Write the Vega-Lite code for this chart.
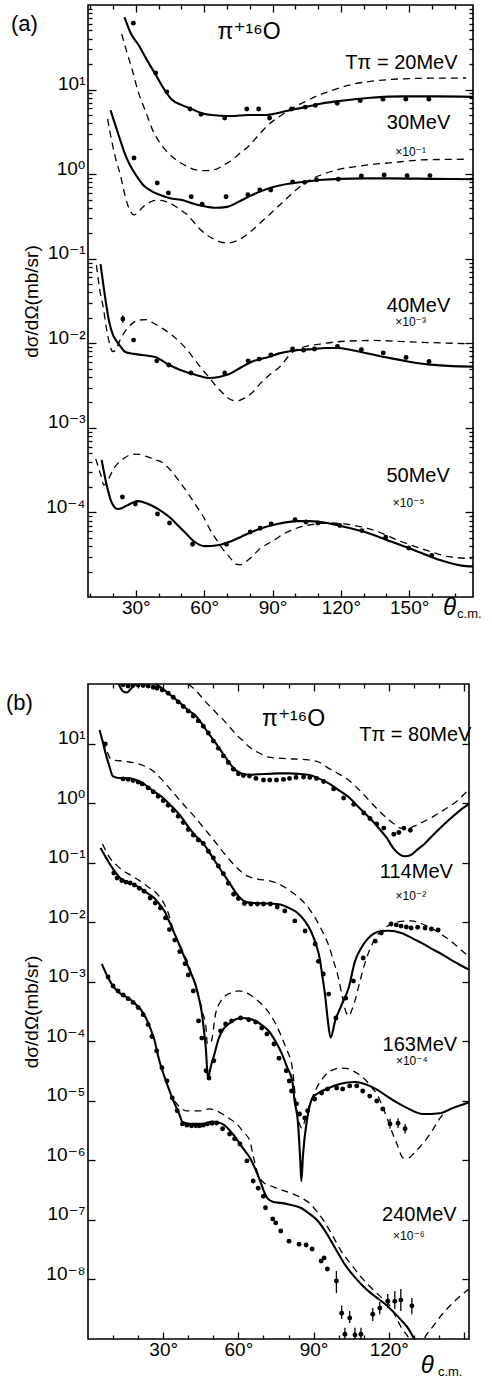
{
"$schema":"https://vega.github.io/schema/vega-lite/v6.json",
"padding":{"left":5,"top":3,"right":0,"bottom":0},
"background":"white",
"spacing":59,
"config":{"font":"Liberation Sans, DejaVu Sans","view":{"stroke":"black","strokeWidth":1.6},
 "axis":{"labelColor":"black","titleColor":"black","tickColor":"black","labelFontSize":19,"labelFont":"Liberation Sans, DejaVu Sans","titleFont":"Liberation Sans, DejaVu Sans","grid":false,"domain":false,"tickWidth":1.3,"labelOverlap":false,"labelFlush":false}},
"datasets":{
"a":[
{"curve":"20","kind":"calcA","angle":25,"value":72},{"curve":"20","kind":"calcA","angle":28,"value":45},{"curve":"20","kind":"calcA","angle":31.2,"value":33.7},{"curve":"20","kind":"calcA","angle":35,"value":22},{"curve":"20","kind":"calcA","angle":38.8,"value":14.9},{"curve":"20","kind":"calcA","angle":42,"value":10.5},{"curve":"20","kind":"calcA","angle":45.6,"value":7.7},{"curve":"20","kind":"calcA","angle":50,"value":6.6},{"curve":"20","kind":"calcA","angle":54.4,"value":5.9},{"curve":"20","kind":"calcA","angle":58.5,"value":5.3},{"curve":"20","kind":"calcA","angle":63.2,"value":5.0},{"curve":"20","kind":"calcA","angle":67.5,"value":4.9},{"curve":"20","kind":"calcA","angle":71.9,"value":4.86},{"curve":"20","kind":"calcA","angle":79.3,"value":5.0},{"curve":"20","kind":"calcA","angle":86.8,"value":5.0},{"curve":"20","kind":"calcA","angle":93.8,"value":5.4},{"curve":"20","kind":"calcA","angle":99,"value":5.8},{"curve":"20","kind":"calcA","angle":104.3,"value":6.2},{"curve":"20","kind":"calcA","angle":111,"value":6.8},{"curve":"20","kind":"calcA","angle":118.7,"value":7.3},{"curve":"20","kind":"calcA","angle":126,"value":7.7},{"curve":"20","kind":"calcA","angle":133.1,"value":8.0},{"curve":"20","kind":"calcA","angle":147.9,"value":8.3},{"curve":"20","kind":"calcA","angle":162.3,"value":8.3},{"curve":"20","kind":"calcA","angle":178,"value":8.2},
{"curve":"30","kind":"calcA","angle":18.9,"value":5.7},{"curve":"30","kind":"calcA","angle":21,"value":3.8},{"curve":"30","kind":"calcA","angle":23,"value":2.6},{"curve":"30","kind":"calcA","angle":25,"value":1.8},{"curve":"30","kind":"calcA","angle":27.4,"value":1.28},{"curve":"30","kind":"calcA","angle":30,"value":0.98},{"curve":"30","kind":"calcA","angle":33.2,"value":0.745},{"curve":"30","kind":"calcA","angle":36.5,"value":0.64},{"curve":"30","kind":"calcA","angle":40.7,"value":0.567},{"curve":"30","kind":"calcA","angle":45,"value":0.52},{"curve":"30","kind":"calcA","angle":50.8,"value":0.49},{"curve":"30","kind":"calcA","angle":55,"value":0.45},{"curve":"30","kind":"calcA","angle":59.5,"value":0.42},{"curve":"30","kind":"calcA","angle":65,"value":0.40},{"curve":"30","kind":"calcA","angle":70,"value":0.41},{"curve":"30","kind":"calcA","angle":75,"value":0.47},{"curve":"30","kind":"calcA","angle":80,"value":0.55},{"curve":"30","kind":"calcA","angle":85,"value":0.63},{"curve":"30","kind":"calcA","angle":90,"value":0.70},{"curve":"30","kind":"calcA","angle":97,"value":0.77},{"curve":"30","kind":"calcA","angle":104.9,"value":0.82},{"curve":"30","kind":"calcA","angle":112,"value":0.86},{"curve":"30","kind":"calcA","angle":119.3,"value":0.88},{"curve":"30","kind":"calcA","angle":130,"value":0.89},{"curve":"30","kind":"calcA","angle":141.2,"value":0.89},{"curve":"30","kind":"calcA","angle":160,"value":0.88},{"curve":"30","kind":"calcA","angle":178,"value":0.87},
{"curve":"40","kind":"calcA","angle":14.5,"value":0.0865},{"curve":"40","kind":"calcA","angle":16.2,"value":0.040},{"curve":"40","kind":"calcA","angle":18.3,"value":0.0179},{"curve":"40","kind":"calcA","angle":20,"value":0.0125},{"curve":"40","kind":"calcA","angle":21.8,"value":0.0104},{"curve":"40","kind":"calcA","angle":23.5,"value":0.009},{"curve":"40","kind":"calcA","angle":25.4,"value":0.0079},{"curve":"40","kind":"calcA","angle":29,"value":0.0075},{"curve":"40","kind":"calcA","angle":32.8,"value":0.00727},{"curve":"40","kind":"calcA","angle":38.5,"value":0.00688},{"curve":"40","kind":"calcA","angle":44.7,"value":0.00553},{"curve":"40","kind":"calcA","angle":49,"value":0.0049},{"curve":"40","kind":"calcA","angle":53.5,"value":0.00445},{"curve":"40","kind":"calcA","angle":58,"value":0.0041},{"curve":"40","kind":"calcA","angle":62.2,"value":0.00388},{"curve":"40","kind":"calcA","angle":66.5,"value":0.0040},{"curve":"40","kind":"calcA","angle":71,"value":0.00433},{"curve":"40","kind":"calcA","angle":76.5,"value":0.00525},{"curve":"40","kind":"calcA","angle":82,"value":0.0062},{"curve":"40","kind":"calcA","angle":88.2,"value":0.00688},{"curve":"40","kind":"calcA","angle":93,"value":0.0076},{"curve":"40","kind":"calcA","angle":98.2,"value":0.0081},{"curve":"40","kind":"calcA","angle":103,"value":0.0084},{"curve":"40","kind":"calcA","angle":108.3,"value":0.00855},{"curve":"40","kind":"calcA","angle":113,"value":0.0088},{"curve":"40","kind":"calcA","angle":118.7,"value":0.0088},{"curve":"40","kind":"calcA","angle":124,"value":0.0084},{"curve":"40","kind":"calcA","angle":128.8,"value":0.0079},{"curve":"40","kind":"calcA","angle":133.5,"value":0.0074},{"curve":"40","kind":"calcA","angle":138.9,"value":0.0069},{"curve":"40","kind":"calcA","angle":144,"value":0.0065},{"curve":"40","kind":"calcA","angle":149.4,"value":0.0061},{"curve":"40","kind":"calcA","angle":154,"value":0.0058},{"curve":"40","kind":"calcA","angle":159.4,"value":0.0056},{"curve":"40","kind":"calcA","angle":167,"value":0.0054},{"curve":"40","kind":"calcA","angle":178,"value":0.0053},
{"curve":"50","kind":"calcA","angle":15,"value":4.17e-4},{"curve":"50","kind":"calcA","angle":16.9,"value":2.29e-4},{"curve":"50","kind":"calcA","angle":19.3,"value":1.33e-4},{"curve":"50","kind":"calcA","angle":22,"value":1.10e-4},{"curve":"50","kind":"calcA","angle":24,"value":1.13e-4},{"curve":"50","kind":"calcA","angle":26.4,"value":1.22e-4},{"curve":"50","kind":"calcA","angle":28.5,"value":1.3e-4},{"curve":"50","kind":"calcA","angle":30.8,"value":1.36e-4},{"curve":"50","kind":"calcA","angle":34,"value":1.3e-4},{"curve":"50","kind":"calcA","angle":38.2,"value":1.16e-4},{"curve":"50","kind":"calcA","angle":42,"value":1.0e-4},{"curve":"50","kind":"calcA","angle":45.7,"value":8.36e-5},{"curve":"50","kind":"calcA","angle":48.5,"value":7e-5},{"curve":"50","kind":"calcA","angle":51.4,"value":5.86e-5},{"curve":"50","kind":"calcA","angle":55.9,"value":4.47e-5},{"curve":"50","kind":"calcA","angle":60.2,"value":4.0e-5},{"curve":"50","kind":"calcA","angle":65.9,"value":4.1e-5},{"curve":"50","kind":"calcA","angle":72.1,"value":4.6e-5},{"curve":"50","kind":"calcA","angle":76.5,"value":5.2e-5},{"curve":"50","kind":"calcA","angle":80.8,"value":5.86e-5},{"curve":"50","kind":"calcA","angle":85.1,"value":6.5e-5},{"curve":"50","kind":"calcA","angle":92.1,"value":7.3e-5},{"curve":"50","kind":"calcA","angle":100.8,"value":7.9e-5},{"curve":"50","kind":"calcA","angle":106,"value":7.9e-5},{"curve":"50","kind":"calcA","angle":111.3,"value":7.7e-5},{"curve":"50","kind":"calcA","angle":120,"value":6.9e-5},{"curve":"50","kind":"calcA","angle":130.2,"value":5.9e-5},{"curve":"50","kind":"calcA","angle":140.4,"value":4.7e-5},{"curve":"50","kind":"calcA","angle":150.9,"value":3.7e-5},{"curve":"50","kind":"calcA","angle":162.3,"value":2.8e-5},{"curve":"50","kind":"calcA","angle":172.9,"value":2.35e-5},{"curve":"50","kind":"calcA","angle":178,"value":2.3e-5},
{"curve":"20","kind":"calcB","angle":23.8,"value":45.4},{"curve":"20","kind":"calcB","angle":26,"value":28},{"curve":"20","kind":"calcB","angle":28.3,"value":17.5},{"curve":"20","kind":"calcB","angle":31,"value":9.5},{"curve":"20","kind":"calcB","angle":34.4,"value":5.4},{"curve":"20","kind":"calcB","angle":37,"value":3.5},{"curve":"20","kind":"calcB","angle":40.3,"value":2.4},{"curve":"20","kind":"calcB","angle":44,"value":1.8},{"curve":"20","kind":"calcB","angle":47.8,"value":1.47},{"curve":"20","kind":"calcB","angle":52,"value":1.25},{"curve":"20","kind":"calcB","angle":56.6,"value":1.12},{"curve":"20","kind":"calcB","angle":61,"value":1.1},{"curve":"20","kind":"calcB","angle":65.4,"value":1.15},{"curve":"20","kind":"calcB","angle":69,"value":1.3},{"curve":"20","kind":"calcB","angle":72.3,"value":1.47},{"curve":"20","kind":"calcB","angle":75.3,"value":1.73},{"curve":"20","kind":"calcB","angle":79.6,"value":2.15},{"curve":"20","kind":"calcB","angle":83.9,"value":2.9},{"curve":"20","kind":"calcB","angle":88,"value":3.8},{"curve":"20","kind":"calcB","angle":94,"value":5.0},{"curve":"20","kind":"calcB","angle":99,"value":6.1},{"curve":"20","kind":"calcB","angle":104.4,"value":7.2},{"curve":"20","kind":"calcB","angle":109,"value":8.3},{"curve":"20","kind":"calcB","angle":114.4,"value":9.4},{"curve":"20","kind":"calcB","angle":120,"value":10.6},{"curve":"20","kind":"calcB","angle":126.1,"value":11.7},{"curve":"20","kind":"calcB","angle":133,"value":12.5},{"curve":"20","kind":"calcB","angle":140.5,"value":13.1},{"curve":"20","kind":"calcB","angle":156.6,"value":13.6},{"curve":"20","kind":"calcB","angle":175,"value":13.7},
{"curve":"30","kind":"calcB","angle":17.6,"value":4.5},{"curve":"30","kind":"calcB","angle":19.8,"value":2.2},{"curve":"30","kind":"calcB","angle":21.5,"value":1.4},{"curve":"30","kind":"calcB","angle":23.2,"value":0.98},{"curve":"30","kind":"calcB","angle":24.5,"value":0.68},{"curve":"30","kind":"calcB","angle":26,"value":0.47},{"curve":"30","kind":"calcB","angle":27.5,"value":0.37},{"curve":"30","kind":"calcB","angle":29,"value":0.33},{"curve":"30","kind":"calcB","angle":30.5,"value":0.34},{"curve":"30","kind":"calcB","angle":32,"value":0.38},{"curve":"30","kind":"calcB","angle":34,"value":0.43},{"curve":"30","kind":"calcB","angle":36.4,"value":0.47},{"curve":"30","kind":"calcB","angle":38.5,"value":0.49},{"curve":"30","kind":"calcB","angle":40.8,"value":0.49},{"curve":"30","kind":"calcB","angle":43.5,"value":0.47},{"curve":"30","kind":"calcB","angle":46.5,"value":0.43},{"curve":"30","kind":"calcB","angle":49.5,"value":0.38},{"curve":"30","kind":"calcB","angle":52.6,"value":0.33},{"curve":"30","kind":"calcB","angle":55.5,"value":0.27},{"curve":"30","kind":"calcB","angle":58.4,"value":0.22},{"curve":"30","kind":"calcB","angle":61.3,"value":0.19},{"curve":"30","kind":"calcB","angle":64.1,"value":0.171},{"curve":"30","kind":"calcB","angle":67,"value":0.158},{"curve":"30","kind":"calcB","angle":70.2,"value":0.153},{"curve":"30","kind":"calcB","angle":73,"value":0.158},{"curve":"30","kind":"calcB","angle":75.9,"value":0.171},{"curve":"30","kind":"calcB","angle":80,"value":0.205},{"curve":"30","kind":"calcB","angle":84.6,"value":0.265},{"curve":"30","kind":"calcB","angle":89.5,"value":0.35},{"curve":"30","kind":"calcB","angle":94.6,"value":0.47},{"curve":"30","kind":"calcB","angle":100,"value":0.64},{"curve":"30","kind":"calcB","angle":105,"value":0.81},{"curve":"30","kind":"calcB","angle":110,"value":0.95},{"curve":"30","kind":"calcB","angle":115,"value":1.06},{"curve":"30","kind":"calcB","angle":120.5,"value":1.16},{"curve":"30","kind":"calcB","angle":126.8,"value":1.23},{"curve":"30","kind":"calcB","angle":133.5,"value":1.3},{"curve":"30","kind":"calcB","angle":141.3,"value":1.36},{"curve":"30","kind":"calcB","angle":157.4,"value":1.48},{"curve":"30","kind":"calcB","angle":175,"value":1.5},
{"curve":"40","kind":"calcB","angle":12.7,"value":0.084},{"curve":"40","kind":"calcB","angle":14.1,"value":0.044},{"curve":"40","kind":"calcB","angle":15.8,"value":0.0255},{"curve":"40","kind":"calcB","angle":17,"value":0.0155},{"curve":"40","kind":"calcB","angle":18.5,"value":0.0098},{"curve":"40","kind":"calcB","angle":19.8,"value":0.0080},{"curve":"40","kind":"calcB","angle":21,"value":0.0082},{"curve":"40","kind":"calcB","angle":22.7,"value":0.0104},{"curve":"40","kind":"calcB","angle":24.5,"value":0.0128},{"curve":"40","kind":"calcB","angle":26.1,"value":0.0148},{"curve":"40","kind":"calcB","angle":28.5,"value":0.0172},{"curve":"40","kind":"calcB","angle":31.3,"value":0.0188},{"curve":"40","kind":"calcB","angle":34.5,"value":0.019},{"curve":"40","kind":"calcB","angle":38.4,"value":0.0169},{"curve":"40","kind":"calcB","angle":42,"value":0.0148},{"curve":"40","kind":"calcB","angle":45.8,"value":0.0125},{"curve":"40","kind":"calcB","angle":49.5,"value":0.0102},{"curve":"40","kind":"calcB","angle":53.3,"value":0.0079},{"curve":"40","kind":"calcB","angle":56,"value":0.0063},{"curve":"40","kind":"calcB","angle":59,"value":0.00497},{"curve":"40","kind":"calcB","angle":62,"value":0.004},{"curve":"40","kind":"calcB","angle":64.8,"value":0.00321},{"curve":"40","kind":"calcB","angle":68,"value":0.0026},{"curve":"40","kind":"calcB","angle":72.2,"value":0.00213},{"curve":"40","kind":"calcB","angle":75,"value":0.0021},{"curve":"40","kind":"calcB","angle":77,"value":0.0022},{"curve":"40","kind":"calcB","angle":80.9,"value":0.00258},{"curve":"40","kind":"calcB","angle":85.2,"value":0.00347},{"curve":"40","kind":"calcB","angle":89.5,"value":0.0044},{"curve":"40","kind":"calcB","angle":93.9,"value":0.0055},{"curve":"40","kind":"calcB","angle":96.5,"value":0.0068},{"curve":"40","kind":"calcB","angle":99.5,"value":0.0081},{"curve":"40","kind":"calcB","angle":104,"value":0.0091},{"curve":"40","kind":"calcB","angle":110,"value":0.0097},{"curve":"40","kind":"calcB","angle":120,"value":0.0105},{"curve":"40","kind":"calcB","angle":134.4,"value":0.0108},{"curve":"40","kind":"calcB","angle":149.3,"value":0.0104},{"curve":"40","kind":"calcB","angle":163.7,"value":0.0101},{"curve":"40","kind":"calcB","angle":175.5,"value":0.0099},
{"curve":"50","kind":"calcB","angle":12.4,"value":4.3e-4},{"curve":"50","kind":"calcB","angle":14.6,"value":2.77e-4},{"curve":"50","kind":"calcB","angle":16,"value":2.1e-4},{"curve":"50","kind":"calcB","angle":17.3,"value":2.29e-4},{"curve":"50","kind":"calcB","angle":18.8,"value":2.75e-4},{"curve":"50","kind":"calcB","angle":20.2,"value":3.26e-4},{"curve":"50","kind":"calcB","angle":22.3,"value":3.85e-4},{"curve":"50","kind":"calcB","angle":24.5,"value":4.3e-4},{"curve":"50","kind":"calcB","angle":28.8,"value":4.9e-4},{"curve":"50","kind":"calcB","angle":31.5,"value":4.85e-4},{"curve":"50","kind":"calcB","angle":34.5,"value":4.6e-4},{"curve":"50","kind":"calcB","angle":38,"value":4.25e-4},{"curve":"50","kind":"calcB","angle":41.9,"value":3.84e-4},{"curve":"50","kind":"calcB","angle":45.5,"value":3.1e-4},{"curve":"50","kind":"calcB","angle":49.3,"value":2.29e-4},{"curve":"50","kind":"calcB","angle":52.8,"value":1.7e-4},{"curve":"50","kind":"calcB","angle":56.3,"value":1.22e-4},{"curve":"50","kind":"calcB","angle":59.5,"value":9e-5},{"curve":"50","kind":"calcB","angle":62.4,"value":6.4e-5},{"curve":"50","kind":"calcB","angle":65.3,"value":4.8e-5},{"curve":"50","kind":"calcB","angle":68.1,"value":3.7e-5},{"curve":"50","kind":"calcB","angle":71,"value":3e-5},{"curve":"50","kind":"calcB","angle":73.9,"value":2.45e-5},{"curve":"50","kind":"calcB","angle":76,"value":2.4e-5},{"curve":"50","kind":"calcB","angle":78.2,"value":2.6e-5},{"curve":"50","kind":"calcB","angle":81,"value":3.0e-5},{"curve":"50","kind":"calcB","angle":84.3,"value":3.7e-5},{"curve":"50","kind":"calcB","angle":87.5,"value":4.2e-5},{"curve":"50","kind":"calcB","angle":91.2,"value":4.8e-5},{"curve":"50","kind":"calcB","angle":94.5,"value":5.5e-5},{"curve":"50","kind":"calcB","angle":98.6,"value":6.2e-5},{"curve":"50","kind":"calcB","angle":102,"value":6.7e-5},{"curve":"50","kind":"calcB","angle":106,"value":7.1e-5},{"curve":"50","kind":"calcB","angle":114.7,"value":7.5e-5},{"curve":"50","kind":"calcB","angle":123.5,"value":7.2e-5},{"curve":"50","kind":"calcB","angle":134.9,"value":6.1e-5},{"curve":"50","kind":"calcB","angle":146.7,"value":4.5e-5},{"curve":"50","kind":"calcB","angle":158.5,"value":3.5e-5},{"curve":"50","kind":"calcB","angle":167.3,"value":3.0e-5},{"curve":"50","kind":"calcB","angle":177.4,"value":2.85e-5},
{"curve":"20","kind":"data","angle":28.9,"value":61},{"curve":"20","kind":"data","angle":38.7,"value":15.7},{"curve":"20","kind":"data","angle":43.6,"value":9.4},{"curve":"20","kind":"data","angle":53.8,"value":5.9},{"curve":"20","kind":"data","angle":58.6,"value":5.1},{"curve":"20","kind":"data","angle":69,"value":4.6},{"curve":"20","kind":"data","angle":78.7,"value":5.9},{"curve":"20","kind":"data","angle":83.9,"value":5.9},{"curve":"20","kind":"data","angle":88.7,"value":4.6},{"curve":"20","kind":"data","angle":98.3,"value":5.9},{"curve":"20","kind":"data","angle":104.4,"value":6.2},{"curve":"20","kind":"data","angle":108.8,"value":6.5},{"curve":"20","kind":"data","angle":118.4,"value":6.9},{"curve":"20","kind":"data","angle":128.5,"value":7.4},{"curve":"20","kind":"data","angle":138.5,"value":7.7},{"curve":"20","kind":"data","angle":148.5,"value":7.7},{"curve":"20","kind":"data","angle":158.6,"value":7.7},
{"curve":"30","kind":"data","angle":29.2,"value":1.55},{"curve":"30","kind":"data","angle":39.4,"value":0.785},{"curve":"30","kind":"data","angle":44.3,"value":0.60},{"curve":"30","kind":"data","angle":54.3,"value":0.54},{"curve":"30","kind":"data","angle":59.1,"value":0.44},{"curve":"30","kind":"data","angle":69.6,"value":0.54},{"curve":"30","kind":"data","angle":79.2,"value":0.57},{"curve":"30","kind":"data","angle":84.4,"value":0.65},{"curve":"30","kind":"data","angle":89.2,"value":0.65},{"curve":"30","kind":"data","angle":98.8,"value":0.81},{"curve":"30","kind":"data","angle":104.1,"value":0.8},{"curve":"30","kind":"data","angle":109.3,"value":0.86},{"curve":"30","kind":"data","angle":118.9,"value":0.87},{"curve":"30","kind":"data","angle":129,"value":0.95},{"curve":"30","kind":"data","angle":139,"value":0.98},{"curve":"30","kind":"data","angle":149.1,"value":0.96},{"curve":"30","kind":"data","angle":159.1,"value":0.96},
{"curve":"40","kind":"data","angle":24.3,"value":0.0194},{"curve":"40","kind":"data","angle":29,"value":0.0109},{"curve":"40","kind":"data","angle":39.2,"value":0.0062},{"curve":"40","kind":"data","angle":44.5,"value":0.00553},{"curve":"40","kind":"data","angle":54.2,"value":0.00445},{"curve":"40","kind":"data","angle":69,"value":0.00445},{"curve":"40","kind":"data","angle":79.3,"value":0.0062},{"curve":"40","kind":"data","angle":84.1,"value":0.0065},{"curve":"40","kind":"data","angle":89.3,"value":0.00727},{"curve":"40","kind":"data","angle":98.8,"value":0.00855},{"curve":"40","kind":"data","angle":103.6,"value":0.0083},{"curve":"40","kind":"data","angle":108.4,"value":0.00855},{"curve":"40","kind":"data","angle":118.5,"value":0.0092},{"curve":"40","kind":"data","angle":129,"value":0.0084},{"curve":"40","kind":"data","angle":138.6,"value":0.0077},{"curve":"40","kind":"data","angle":148.6,"value":0.0068},{"curve":"40","kind":"data","angle":158.7,"value":0.0061},
{"curve":"50","kind":"data","angle":24.1,"value":1.52e-4},{"curve":"50","kind":"data","angle":29.8,"value":1.26e-4},{"curve":"50","kind":"data","angle":39.5,"value":9.6e-5},{"curve":"50","kind":"data","angle":44.8,"value":7.5e-5},{"curve":"50","kind":"data","angle":54.9,"value":4.2e-5},{"curve":"50","kind":"data","angle":69.8,"value":4.2e-5},{"curve":"50","kind":"data","angle":80.2,"value":5.86e-5},{"curve":"50","kind":"data","angle":84.6,"value":6.5e-5},{"curve":"50","kind":"data","angle":89.4,"value":7.3e-5},{"curve":"50","kind":"data","angle":99.9,"value":8.2e-5},{"curve":"50","kind":"data","angle":104.7,"value":7.7e-5},{"curve":"50","kind":"data","angle":109.9,"value":7.5e-5},{"curve":"50","kind":"data","angle":119.5,"value":7.0e-5},{"curve":"50","kind":"data","angle":129.2,"value":6.1e-5},{"curve":"50","kind":"data","angle":139.7,"value":5.1e-5},{"curve":"50","kind":"data","angle":149.8,"value":3.8e-5},{"curve":"50","kind":"data","angle":159.9,"value":3.1e-5}
],
"aErr":[{"curve":"40","angle":24.3,"low":0.0175,"high":0.0215}],
"aText":[
{"role":"panel","label":"(a)","angle":-24.8,"value":49.3},
{"role":"reaction","label":"π⁺¹⁶O","angle":79.7,"value":39.6},
{"role":"energy","label":"Tπ = 20MeV","angle":146.6,"value":17.5},
{"role":"energy","label":"30MeV","angle":154.1,"value":3.42},
{"role":"factor","label":"×10⁻¹","angle":150.6,"value":1.64},
{"role":"energy","label":"40MeV","angle":154.1,"value":0.0234},
{"role":"factor","label":"×10⁻³","angle":150.6,"value":0.016},
{"role":"energy","label":"50MeV","angle":153.9,"value":2.29e-4},
{"role":"factor","label":"×10⁻⁵","angle":149.7,"value":1.16e-4},
{"role":"theta","label":"θ","angle":164.8,"value":6.1e-6},
{"role":"sub","label":"c.m.","angle":171.0,"value":5.6e-6}
],
"b":[
{"curve":"80","kind":"calcA","angle":11,"value":130},{"curve":"80","kind":"calcA","angle":12.5,"value":95},{"curve":"80","kind":"calcA","angle":14,"value":75},{"curve":"80","kind":"calcA","angle":15.5,"value":72},{"curve":"80","kind":"calcA","angle":17,"value":82},{"curve":"80","kind":"calcA","angle":18.8,"value":100},{"curve":"80","kind":"calcA","angle":21,"value":120},{"curve":"80","kind":"calcA","angle":24,"value":118},{"curve":"80","kind":"calcA","angle":27,"value":100},{"curve":"80","kind":"calcA","angle":30,"value":82},{"curve":"80","kind":"calcA","angle":32,"value":70},{"curve":"80","kind":"calcA","angle":34,"value":60},{"curve":"80","kind":"calcA","angle":37.5,"value":45},{"curve":"80","kind":"calcA","angle":40,"value":36},{"curve":"80","kind":"calcA","angle":42.8,"value":30},{"curve":"80","kind":"calcA","angle":45.6,"value":21},{"curve":"80","kind":"calcA","angle":48,"value":15},{"curve":"80","kind":"calcA","angle":50,"value":11.5},{"curve":"80","kind":"calcA","angle":52,"value":8.8},{"curve":"80","kind":"calcA","angle":54,"value":6.6},{"curve":"80","kind":"calcA","angle":56,"value":5.0},{"curve":"80","kind":"calcA","angle":58,"value":3.9},{"curve":"80","kind":"calcA","angle":60,"value":3.35},{"curve":"80","kind":"calcA","angle":62.5,"value":3.05},{"curve":"80","kind":"calcA","angle":64.4,"value":3.0},{"curve":"80","kind":"calcA","angle":68,"value":3.05},{"curve":"80","kind":"calcA","angle":72.4,"value":3.1},{"curve":"80","kind":"calcA","angle":76,"value":3.15},{"curve":"80","kind":"calcA","angle":80.4,"value":3.15},{"curve":"80","kind":"calcA","angle":84,"value":3.1},{"curve":"80","kind":"calcA","angle":88.4,"value":2.96},{"curve":"80","kind":"calcA","angle":92,"value":2.6},{"curve":"80","kind":"calcA","angle":96.4,"value":2.1},{"curve":"80","kind":"calcA","angle":100,"value":1.65},{"curve":"80","kind":"calcA","angle":104.4,"value":1.22},{"curve":"80","kind":"calcA","angle":108,"value":0.85},{"curve":"80","kind":"calcA","angle":112.4,"value":0.56},{"curve":"80","kind":"calcA","angle":116,"value":0.38},{"curve":"80","kind":"calcA","angle":119.2,"value":0.26},{"curve":"80","kind":"calcA","angle":122,"value":0.17},{"curve":"80","kind":"calcA","angle":124.6,"value":0.135},{"curve":"80","kind":"calcA","angle":126.5,"value":0.128},{"curve":"80","kind":"calcA","angle":128.6,"value":0.133},{"curve":"80","kind":"calcA","angle":131,"value":0.16},{"curve":"80","kind":"calcA","angle":134.2,"value":0.206},{"curve":"80","kind":"calcA","angle":138,"value":0.3},{"curve":"80","kind":"calcA","angle":142.2,"value":0.446},{"curve":"80","kind":"calcA","angle":146,"value":0.62},{"curve":"80","kind":"calcA","angle":150,"value":0.85},{"curve":"80","kind":"calcA","angle":152,"value":0.97},
{"curve":"114","kind":"calcA","angle":4.6,"value":16.9},{"curve":"114","kind":"calcA","angle":5.8,"value":11},{"curve":"114","kind":"calcA","angle":7,"value":6.9},{"curve":"114","kind":"calcA","angle":8.5,"value":4.2},{"curve":"114","kind":"calcA","angle":9.9,"value":2.85},{"curve":"114","kind":"calcA","angle":12.3,"value":2.64},{"curve":"114","kind":"calcA","angle":14,"value":2.64},{"curve":"114","kind":"calcA","angle":16.3,"value":2.62},{"curve":"114","kind":"calcA","angle":18.5,"value":2.5},{"curve":"114","kind":"calcA","angle":20.3,"value":2.35},{"curve":"114","kind":"calcA","angle":22.3,"value":2.1},{"curve":"114","kind":"calcA","angle":24.3,"value":1.8},{"curve":"114","kind":"calcA","angle":27,"value":1.5},{"curve":"114","kind":"calcA","angle":30,"value":1.22},{"curve":"114","kind":"calcA","angle":32.5,"value":0.96},{"curve":"114","kind":"calcA","angle":35.2,"value":0.736},{"curve":"114","kind":"calcA","angle":38,"value":0.53},{"curve":"114","kind":"calcA","angle":40.4,"value":0.38},{"curve":"114","kind":"calcA","angle":43,"value":0.28},{"curve":"114","kind":"calcA","angle":46.1,"value":0.206},{"curve":"114","kind":"calcA","angle":48.8,"value":0.14},{"curve":"114","kind":"calcA","angle":51.4,"value":0.095},{"curve":"114","kind":"calcA","angle":54,"value":0.065},{"curve":"114","kind":"calcA","angle":56.7,"value":0.044},{"curve":"114","kind":"calcA","angle":58.8,"value":0.032},{"curve":"114","kind":"calcA","angle":60.7,"value":0.0255},{"curve":"114","kind":"calcA","angle":63.5,"value":0.0215},{"curve":"114","kind":"calcA","angle":66,"value":0.021},{"curve":"114","kind":"calcA","angle":70,"value":0.0207},{"curve":"114","kind":"calcA","angle":72.7,"value":0.0205},{"curve":"114","kind":"calcA","angle":76.7,"value":0.0198},{"curve":"114","kind":"calcA","angle":80,"value":0.0175},{"curve":"114","kind":"calcA","angle":83.6,"value":0.0143},{"curve":"114","kind":"calcA","angle":86.5,"value":0.0105},{"curve":"114","kind":"calcA","angle":88.9,"value":0.0071},{"curve":"114","kind":"calcA","angle":91,"value":0.0042},{"curve":"114","kind":"calcA","angle":92.5,"value":0.0024},{"curve":"114","kind":"calcA","angle":93.4,"value":0.00133},{"curve":"114","kind":"calcA","angle":94.7,"value":5.4e-4},{"curve":"114","kind":"calcA","angle":95.7,"value":2.2e-4},{"curve":"114","kind":"calcA","angle":96.8,"value":1.15e-4},{"curve":"114","kind":"calcA","angle":98.6,"value":2.2e-4},{"curve":"114","kind":"calcA","angle":101.3,"value":4.2e-4},{"curve":"114","kind":"calcA","angle":104,"value":7.9e-4},{"curve":"114","kind":"calcA","angle":106.5,"value":0.0022},{"curve":"114","kind":"calcA","angle":109,"value":0.0037},{"curve":"114","kind":"calcA","angle":111.5,"value":0.0052},{"curve":"114","kind":"calcA","angle":114,"value":0.0064},{"curve":"114","kind":"calcA","angle":116.9,"value":0.0071},{"curve":"114","kind":"calcA","angle":120,"value":0.0072},{"curve":"114","kind":"calcA","angle":125,"value":0.0066},{"curve":"114","kind":"calcA","angle":130,"value":0.0052},{"curve":"114","kind":"calcA","angle":133,"value":0.0045},{"curve":"114","kind":"calcA","angle":137,"value":0.0036},{"curve":"114","kind":"calcA","angle":141.1,"value":0.0029},{"curve":"114","kind":"calcA","angle":145,"value":0.0023},{"curve":"114","kind":"calcA","angle":149.2,"value":0.00184},{"curve":"114","kind":"calcA","angle":152,"value":0.0016},
{"curve":"163","kind":"calcA","angle":5,"value":0.176},{"curve":"163","kind":"calcA","angle":7,"value":0.125},{"curve":"163","kind":"calcA","angle":8.7,"value":0.095},{"curve":"163","kind":"calcA","angle":10.8,"value":0.07},{"curve":"163","kind":"calcA","angle":12.8,"value":0.055},{"curve":"163","kind":"calcA","angle":16.8,"value":0.0455},{"curve":"163","kind":"calcA","angle":20.8,"value":0.0375},{"curve":"163","kind":"calcA","angle":23.5,"value":0.031},{"curve":"163","kind":"calcA","angle":26.4,"value":0.0255},{"curve":"163","kind":"calcA","angle":28.5,"value":0.02},{"curve":"163","kind":"calcA","angle":30.5,"value":0.0154},{"curve":"163","kind":"calcA","angle":32.5,"value":0.01},{"curve":"163","kind":"calcA","angle":34.6,"value":0.0063},{"curve":"163","kind":"calcA","angle":36.6,"value":0.004},{"curve":"163","kind":"calcA","angle":38.6,"value":0.0025},{"curve":"163","kind":"calcA","angle":40.7,"value":0.0015},{"curve":"163","kind":"calcA","angle":42.8,"value":9.2e-4},{"curve":"163","kind":"calcA","angle":44,"value":5.8e-4},{"curve":"163","kind":"calcA","angle":45.3,"value":3.2e-4},{"curve":"163","kind":"calcA","angle":46.2,"value":1.6e-4},{"curve":"163","kind":"calcA","angle":47,"value":7.7e-5},{"curve":"163","kind":"calcA","angle":47.9,"value":2.3e-5},{"curve":"163","kind":"calcA","angle":48.8,"value":3.5e-5},{"curve":"163","kind":"calcA","angle":50.2,"value":5.6e-5},{"curve":"163","kind":"calcA","angle":52.2,"value":1.13e-4},{"curve":"163","kind":"calcA","angle":54,"value":1.6e-4},{"curve":"163","kind":"calcA","angle":56.1,"value":1.95e-4},{"curve":"163","kind":"calcA","angle":58.5,"value":2.3e-4},{"curve":"163","kind":"calcA","angle":61.3,"value":2.46e-4},{"curve":"163","kind":"calcA","angle":64,"value":2.4e-4},{"curve":"163","kind":"calcA","angle":66.9,"value":2.19e-4},{"curve":"163","kind":"calcA","angle":69.5,"value":1.85e-4},{"curve":"163","kind":"calcA","angle":72.1,"value":1.49e-4},{"curve":"163","kind":"calcA","angle":74.8,"value":1.0e-4},{"curve":"163","kind":"calcA","angle":77.4,"value":6.1e-5},{"curve":"163","kind":"calcA","angle":79.5,"value":3.6e-5},{"curve":"163","kind":"calcA","angle":81.5,"value":2.15e-5},{"curve":"163","kind":"calcA","angle":82.4,"value":1.0e-5},{"curve":"163","kind":"calcA","angle":83.7,"value":4.6e-6},{"curve":"163","kind":"calcA","angle":84.7,"value":9.8e-7},{"curve":"163","kind":"calcA","angle":85.1,"value":4.5e-7},{"curve":"163","kind":"calcA","angle":85.8,"value":1.28e-6},{"curve":"163","kind":"calcA","angle":87.3,"value":4.6e-6},{"curve":"163","kind":"calcA","angle":89.6,"value":1.12e-5},{"curve":"163","kind":"calcA","angle":92.5,"value":1.4e-5},{"curve":"163","kind":"calcA","angle":95.2,"value":1.58e-5},{"curve":"163","kind":"calcA","angle":100.4,"value":1.92e-5},{"curve":"163","kind":"calcA","angle":106.4,"value":2.07e-5},{"curve":"163","kind":"calcA","angle":112.4,"value":1.78e-5},{"curve":"163","kind":"calcA","angle":115.8,"value":1.5e-5},{"curve":"163","kind":"calcA","angle":119.2,"value":1.2e-5},{"curve":"163","kind":"calcA","angle":123,"value":9.5e-6},{"curve":"163","kind":"calcA","angle":127.2,"value":7.6e-6},{"curve":"163","kind":"calcA","angle":133.6,"value":6.0e-6},{"curve":"163","kind":"calcA","angle":140.4,"value":6.2e-6},{"curve":"163","kind":"calcA","angle":145.6,"value":7.6e-6},{"curve":"163","kind":"calcA","angle":151.2,"value":9.2e-6},{"curve":"163","kind":"calcA","angle":152,"value":9.5e-6},
{"curve":"240","kind":"calcA","angle":5.5,"value":2.0e-3},{"curve":"240","kind":"calcA","angle":7.5,"value":1.3e-3},{"curve":"240","kind":"calcA","angle":9.2,"value":9.5e-4},{"curve":"240","kind":"calcA","angle":11,"value":7.5e-4},{"curve":"240","kind":"calcA","angle":13.2,"value":6.2e-4},{"curve":"240","kind":"calcA","angle":15,"value":5.6e-4},{"curve":"240","kind":"calcA","angle":17.2,"value":4.9e-4},{"curve":"240","kind":"calcA","angle":19,"value":4.2e-4},{"curve":"240","kind":"calcA","angle":21.3,"value":3.3e-4},{"curve":"240","kind":"calcA","angle":23,"value":2.5e-4},{"curve":"240","kind":"calcA","angle":25,"value":1.6e-4},{"curve":"240","kind":"calcA","angle":26.5,"value":1.05e-4},{"curve":"240","kind":"calcA","angle":28.3,"value":5e-5},{"curve":"240","kind":"calcA","angle":29.7,"value":3.2e-5},{"curve":"240","kind":"calcA","angle":31.1,"value":2.15e-5},{"curve":"240","kind":"calcA","angle":33.6,"value":1.12e-5},{"curve":"240","kind":"calcA","angle":36.4,"value":6.0e-6},{"curve":"240","kind":"calcA","angle":37.7,"value":4.4e-6},{"curve":"240","kind":"calcA","angle":40.5,"value":4.1e-6},{"curve":"240","kind":"calcA","angle":45.7,"value":4.1e-6},{"curve":"240","kind":"calcA","angle":49.7,"value":4.5e-6},{"curve":"240","kind":"calcA","angle":53.6,"value":4.1e-6},{"curve":"240","kind":"calcA","angle":57.7,"value":2.8e-6},{"curve":"240","kind":"calcA","angle":61.8,"value":1.6e-6},{"curve":"240","kind":"calcA","angle":64.6,"value":1.1e-6},{"curve":"240","kind":"calcA","angle":68.7,"value":4.5e-7},{"curve":"240","kind":"calcA","angle":70.5,"value":2.8e-7},{"curve":"240","kind":"calcA","angle":71.6,"value":2.3e-7},{"curve":"240","kind":"calcA","angle":74,"value":2.0e-7},{"curve":"240","kind":"calcA","angle":76.8,"value":1.93e-7},{"curve":"240","kind":"calcA","angle":80.5,"value":1.8e-7},{"curve":"240","kind":"calcA","angle":84.8,"value":1.6e-7},{"curve":"240","kind":"calcA","angle":88,"value":1.3e-7},{"curve":"240","kind":"calcA","angle":91.7,"value":9.6e-8},{"curve":"240","kind":"calcA","angle":94.5,"value":6.6e-8},{"curve":"240","kind":"calcA","angle":97,"value":4.4e-8},{"curve":"240","kind":"calcA","angle":99.5,"value":2.9e-8},{"curve":"240","kind":"calcA","angle":102.4,"value":1.8e-8},{"curve":"240","kind":"calcA","angle":106,"value":1.15e-8},{"curve":"240","kind":"calcA","angle":110.5,"value":7.2e-9},{"curve":"240","kind":"calcA","angle":114.5,"value":5.2e-9},{"curve":"240","kind":"calcA","angle":118.4,"value":3.9e-9},{"curve":"240","kind":"calcA","angle":122,"value":2.8e-9},{"curve":"240","kind":"calcA","angle":125.3,"value":2.0e-9},{"curve":"240","kind":"calcA","angle":128,"value":1.45e-9},{"curve":"240","kind":"calcA","angle":130.1,"value":1.0e-9},{"curve":"240","kind":"calcA","angle":132,"value":7e-10},
{"curve":"80","kind":"calcB","angle":40,"value":100},{"curve":"80","kind":"calcB","angle":42,"value":85},{"curve":"80","kind":"calcB","angle":44,"value":70},{"curve":"80","kind":"calcB","angle":46,"value":56},{"curve":"80","kind":"calcB","angle":48,"value":45},{"curve":"80","kind":"calcB","angle":50,"value":37},{"curve":"80","kind":"calcB","angle":52,"value":30},{"curve":"80","kind":"calcB","angle":54,"value":25},{"curve":"80","kind":"calcB","angle":56,"value":20},{"curve":"80","kind":"calcB","angle":58,"value":16},{"curve":"80","kind":"calcB","angle":60,"value":13},{"curve":"80","kind":"calcB","angle":62,"value":11},{"curve":"80","kind":"calcB","angle":64,"value":9},{"curve":"80","kind":"calcB","angle":66,"value":7.8},{"curve":"80","kind":"calcB","angle":68,"value":7},{"curve":"80","kind":"calcB","angle":70,"value":6.4},{"curve":"80","kind":"calcB","angle":72,"value":5.9},{"curve":"80","kind":"calcB","angle":76,"value":5.7},{"curve":"80","kind":"calcB","angle":82,"value":5.5},{"curve":"80","kind":"calcB","angle":88,"value":5.3},{"curve":"80","kind":"calcB","angle":92,"value":4.9},{"curve":"80","kind":"calcB","angle":96.2,"value":3.8},{"curve":"80","kind":"calcB","angle":100,"value":3.1},{"curve":"80","kind":"calcB","angle":104.4,"value":2.35},{"curve":"80","kind":"calcB","angle":108,"value":1.7},{"curve":"80","kind":"calcB","angle":112.4,"value":1.08},{"curve":"80","kind":"calcB","angle":116,"value":0.75},{"curve":"80","kind":"calcB","angle":119.2,"value":0.56},{"curve":"80","kind":"calcB","angle":122,"value":0.45},{"curve":"80","kind":"calcB","angle":124.6,"value":0.38},{"curve":"80","kind":"calcB","angle":127,"value":0.37},{"curve":"80","kind":"calcB","angle":130.2,"value":0.41},{"curve":"80","kind":"calcB","angle":134,"value":0.49},{"curve":"80","kind":"calcB","angle":138.2,"value":0.61},{"curve":"80","kind":"calcB","angle":142,"value":0.77},{"curve":"80","kind":"calcB","angle":146.2,"value":1.0},{"curve":"80","kind":"calcB","angle":150,"value":1.4},{"curve":"80","kind":"calcB","angle":152,"value":1.7},
{"curve":"114","kind":"calcB","angle":5.8,"value":11},{"curve":"114","kind":"calcB","angle":7.5,"value":7.5},{"curve":"114","kind":"calcB","angle":9.1,"value":5.5},{"curve":"114","kind":"calcB","angle":11,"value":5.2},{"curve":"114","kind":"calcB","angle":13.9,"value":5.1},{"curve":"114","kind":"calcB","angle":16.5,"value":4.9},{"curve":"114","kind":"calcB","angle":19.1,"value":4.7},{"curve":"114","kind":"calcB","angle":22.5,"value":4.2},{"curve":"114","kind":"calcB","angle":26,"value":3.46},{"curve":"114","kind":"calcB","angle":29,"value":2.6},{"curve":"114","kind":"calcB","angle":32.4,"value":1.8},{"curve":"114","kind":"calcB","angle":36,"value":1.2},{"curve":"114","kind":"calcB","angle":39.3,"value":0.83},{"curve":"114","kind":"calcB","angle":43,"value":0.56},{"curve":"114","kind":"calcB","angle":46.2,"value":0.38},{"curve":"114","kind":"calcB","angle":49.5,"value":0.26},{"curve":"114","kind":"calcB","angle":52.6,"value":0.176},{"curve":"114","kind":"calcB","angle":56,"value":0.118},{"curve":"114","kind":"calcB","angle":59.5,"value":0.081},{"curve":"114","kind":"calcB","angle":63.5,"value":0.06},{"curve":"114","kind":"calcB","angle":67.6,"value":0.053},{"curve":"114","kind":"calcB","angle":72.8,"value":0.049},{"curve":"114","kind":"calcB","angle":77,"value":0.042},{"curve":"114","kind":"calcB","angle":80.8,"value":0.033},{"curve":"114","kind":"calcB","angle":85,"value":0.024},{"curve":"114","kind":"calcB","angle":88.9,"value":0.0154},{"curve":"114","kind":"calcB","angle":92.5,"value":0.0085},{"curve":"114","kind":"calcB","angle":95.8,"value":0.0043},{"curve":"114","kind":"calcB","angle":98,"value":0.0022},{"curve":"114","kind":"calcB","angle":99.9,"value":0.00116},{"curve":"114","kind":"calcB","angle":101.5,"value":5.5e-4},{"curve":"114","kind":"calcB","angle":102.8,"value":3.2e-4},{"curve":"114","kind":"calcB","angle":104.1,"value":2.66e-4},{"curve":"114","kind":"calcB","angle":105.3,"value":3.4e-4},{"curve":"114","kind":"calcB","angle":106.8,"value":5.3e-4},{"curve":"114","kind":"calcB","angle":108.7,"value":0.0011},{"curve":"114","kind":"calcB","angle":110.7,"value":0.0022},{"curve":"114","kind":"calcB","angle":112.6,"value":0.0036},{"curve":"114","kind":"calcB","angle":114.6,"value":0.0054},{"curve":"114","kind":"calcB","angle":117.5,"value":0.0074},{"curve":"114","kind":"calcB","angle":120.9,"value":0.0093},{"curve":"114","kind":"calcB","angle":124.9,"value":0.0103},{"curve":"114","kind":"calcB","angle":128.9,"value":0.0105},{"curve":"114","kind":"calcB","angle":132.9,"value":0.0095},{"curve":"114","kind":"calcB","angle":136.9,"value":0.008},{"curve":"114","kind":"calcB","angle":140.8,"value":0.0063},{"curve":"114","kind":"calcB","angle":144.8,"value":0.0048},{"curve":"114","kind":"calcB","angle":148.2,"value":0.0036},{"curve":"114","kind":"calcB","angle":151.6,"value":0.0027},
{"curve":"163","kind":"calcB","angle":5.8,"value":0.206},{"curve":"163","kind":"calcB","angle":8.7,"value":0.12},{"curve":"163","kind":"calcB","angle":11.5,"value":0.09},{"curve":"163","kind":"calcB","angle":14.3,"value":0.072},{"curve":"163","kind":"calcB","angle":17.5,"value":0.06},{"curve":"163","kind":"calcB","angle":20.8,"value":0.049},{"curve":"163","kind":"calcB","angle":24,"value":0.039},{"curve":"163","kind":"calcB","angle":27.6,"value":0.0298},{"curve":"163","kind":"calcB","angle":31.7,"value":0.0154},{"curve":"163","kind":"calcB","angle":34.6,"value":0.0063},{"curve":"163","kind":"calcB","angle":37.3,"value":0.0036},{"curve":"163","kind":"calcB","angle":40,"value":0.002},{"curve":"163","kind":"calcB","angle":42,"value":0.0011},{"curve":"163","kind":"calcB","angle":44,"value":6.2e-4},{"curve":"163","kind":"calcB","angle":45.6,"value":3.2e-4},{"curve":"163","kind":"calcB","angle":47.1,"value":1.67e-4},{"curve":"163","kind":"calcB","angle":47.6,"value":9e-5},{"curve":"163","kind":"calcB","angle":49.2,"value":1.01e-4},{"curve":"163","kind":"calcB","angle":50.9,"value":2.9e-4},{"curve":"163","kind":"calcB","angle":52.8,"value":4.6e-4},{"curve":"163","kind":"calcB","angle":54.8,"value":5.8e-4},{"curve":"163","kind":"calcB","angle":57.5,"value":6.6e-4},{"curve":"163","kind":"calcB","angle":60,"value":7.0e-4},{"curve":"163","kind":"calcB","angle":62.5,"value":6.7e-4},{"curve":"163","kind":"calcB","angle":65.2,"value":5.8e-4},{"curve":"163","kind":"calcB","angle":68,"value":4.7e-4},{"curve":"163","kind":"calcB","angle":70.8,"value":3.6e-4},{"curve":"163","kind":"calcB","angle":72.9,"value":2.7e-4},{"curve":"163","kind":"calcB","angle":74.9,"value":1.95e-4},{"curve":"163","kind":"calcB","angle":77,"value":1.25e-4},{"curve":"163","kind":"calcB","angle":79,"value":7.7e-5},{"curve":"163","kind":"calcB","angle":81.5,"value":3.6e-5},{"curve":"163","kind":"calcB","angle":83.2,"value":7.6e-6},{"curve":"163","kind":"calcB","angle":85.3,"value":3.5e-6},{"curve":"163","kind":"calcB","angle":87.2,"value":6.0e-6},{"curve":"163","kind":"calcB","angle":89.2,"value":1.05e-5},{"curve":"163","kind":"calcB","angle":91.2,"value":1.64e-5},{"curve":"163","kind":"calcB","angle":93.5,"value":2.35e-5},{"curve":"163","kind":"calcB","angle":95.5,"value":2.94e-5},{"curve":"163","kind":"calcB","angle":98,"value":3.35e-5},{"curve":"163","kind":"calcB","angle":100.3,"value":3.56e-5},{"curve":"163","kind":"calcB","angle":103,"value":3.5e-5},{"curve":"163","kind":"calcB","angle":105.5,"value":3.2e-5},{"curve":"163","kind":"calcB","angle":108.5,"value":2.7e-5},{"curve":"163","kind":"calcB","angle":111.1,"value":2.15e-5},{"curve":"163","kind":"calcB","angle":113,"value":1.7e-5},{"curve":"163","kind":"calcB","angle":115.2,"value":1.3e-5},{"curve":"163","kind":"calcB","angle":117.3,"value":8.5e-6},{"curve":"163","kind":"calcB","angle":119.3,"value":5.15e-6},{"curve":"163","kind":"calcB","angle":121.3,"value":3.0e-6},{"curve":"163","kind":"calcB","angle":123.2,"value":1.9e-6},{"curve":"163","kind":"calcB","angle":125.8,"value":1.1e-6},{"curve":"163","kind":"calcB","angle":127.8,"value":1.1e-6},{"curve":"163","kind":"calcB","angle":129.8,"value":1.28e-6},{"curve":"163","kind":"calcB","angle":132.5,"value":1.7e-6},{"curve":"163","kind":"calcB","angle":135.4,"value":2.4e-6},{"curve":"163","kind":"calcB","angle":138,"value":3.5e-6},{"curve":"163","kind":"calcB","angle":140.5,"value":5.15e-6},{"curve":"163","kind":"calcB","angle":143,"value":7e-6},
{"curve":"240","kind":"calcB","angle":34.5,"value":1.0e-5},{"curve":"240","kind":"calcB","angle":37,"value":7.6e-6},{"curve":"240","kind":"calcB","angle":39.2,"value":6.8e-6},{"curve":"240","kind":"calcB","angle":44.4,"value":6.8e-6},{"curve":"240","kind":"calcB","angle":48.4,"value":7.3e-6},{"curve":"240","kind":"calcB","angle":51,"value":6.9e-6},{"curve":"240","kind":"calcB","angle":53.7,"value":6.0e-6},{"curve":"240","kind":"calcB","angle":56.5,"value":5.0e-6},{"curve":"240","kind":"calcB","angle":59.3,"value":4.1e-6},{"curve":"240","kind":"calcB","angle":62,"value":3.0e-6},{"curve":"240","kind":"calcB","angle":64.6,"value":2.1e-6},{"curve":"240","kind":"calcB","angle":65.9,"value":1.2e-6},{"curve":"240","kind":"calcB","angle":67.5,"value":6.5e-7},{"curve":"240","kind":"calcB","angle":69.9,"value":4.3e-7},{"curve":"240","kind":"calcB","angle":73.9,"value":3.6e-7},{"curve":"240","kind":"calcB","angle":78,"value":3.1e-7},{"curve":"240","kind":"calcB","angle":82,"value":2.7e-7},{"curve":"240","kind":"calcB","angle":85.5,"value":2.3e-7},{"curve":"240","kind":"calcB","angle":88.8,"value":1.85e-7},{"curve":"240","kind":"calcB","angle":91.5,"value":1.35e-7},{"curve":"240","kind":"calcB","angle":94.1,"value":9.6e-8},{"curve":"240","kind":"calcB","angle":97.5,"value":5.5e-8},{"curve":"240","kind":"calcB","angle":101,"value":3.0e-8},{"curve":"240","kind":"calcB","angle":104.5,"value":1.9e-8},{"curve":"240","kind":"calcB","angle":107.9,"value":1.24e-8},{"curve":"240","kind":"calcB","angle":111,"value":8.8e-9},{"curve":"240","kind":"calcB","angle":114.3,"value":6.4e-9},{"curve":"240","kind":"calcB","angle":117,"value":5e-9},{"curve":"240","kind":"calcB","angle":119.9,"value":3.9e-9},{"curve":"240","kind":"calcB","angle":122.5,"value":2.5e-9},{"curve":"240","kind":"calcB","angle":125.2,"value":1.5e-9},{"curve":"240","kind":"calcB","angle":128.1,"value":1e-9},{"curve":"240","kind":"calcB","angle":131,"value":4e-10},{"curve":"240","kind":"calcB","angle":134.1,"value":1.0e-9},{"curve":"240","kind":"calcB","angle":137.5,"value":1.6e-9},{"curve":"240","kind":"calcB","angle":141.3,"value":2.6e-9},{"curve":"240","kind":"calcB","angle":146,"value":4.2e-9},{"curve":"240","kind":"calcB","angle":151.9,"value":6.9e-9},
{"curve":"80","kind":"data","angle":14,"value":97},{"curve":"80","kind":"data","angle":16,"value":92.6},{"curve":"80","kind":"data","angle":18,"value":95},{"curve":"80","kind":"data","angle":20,"value":96},{"curve":"80","kind":"data","angle":22,"value":94},{"curve":"80","kind":"data","angle":24,"value":92.6},{"curve":"80","kind":"data","angle":26,"value":88},{"curve":"80","kind":"data","angle":27.5,"value":85},{"curve":"80","kind":"data","angle":29.6,"value":79},{"curve":"80","kind":"data","angle":32,"value":70},{"curve":"80","kind":"data","angle":34,"value":60},{"curve":"80","kind":"data","angle":36,"value":50},{"curve":"80","kind":"data","angle":38,"value":42},{"curve":"80","kind":"data","angle":40,"value":35},{"curve":"80","kind":"data","angle":42,"value":29},{"curve":"80","kind":"data","angle":44,"value":24},{"curve":"80","kind":"data","angle":46,"value":19.5},{"curve":"80","kind":"data","angle":48,"value":15},{"curve":"80","kind":"data","angle":50,"value":11},{"curve":"80","kind":"data","angle":52,"value":8.3},{"curve":"80","kind":"data","angle":54,"value":6.2},{"curve":"80","kind":"data","angle":56,"value":4.8},{"curve":"80","kind":"data","angle":58,"value":3.7},{"curve":"80","kind":"data","angle":60,"value":3.1},{"curve":"80","kind":"data","angle":62,"value":2.9},{"curve":"80","kind":"data","angle":64.4,"value":2.85},{"curve":"80","kind":"data","angle":67,"value":2.6},{"curve":"80","kind":"data","angle":70,"value":2.44},{"curve":"80","kind":"data","angle":72.5,"value":2.44},{"curve":"80","kind":"data","angle":75.2,"value":2.44},{"curve":"80","kind":"data","angle":78,"value":2.5},{"curve":"80","kind":"data","angle":80.4,"value":2.6},{"curve":"80","kind":"data","angle":83,"value":2.7},{"curve":"80","kind":"data","angle":86,"value":2.74},{"curve":"80","kind":"data","angle":88.5,"value":2.7},{"curve":"80","kind":"data","angle":91.2,"value":2.6},{"curve":"80","kind":"data","angle":94,"value":2.3},{"curve":"80","kind":"data","angle":98,"value":1.73},{"curve":"80","kind":"data","angle":102,"value":1.22},{"curve":"80","kind":"data","angle":106,"value":0.95},{"curve":"80","kind":"data","angle":110,"value":0.68},{"curve":"80","kind":"data","angle":112.5,"value":0.55},{"curve":"80","kind":"data","angle":115.2,"value":0.446},{"curve":"80","kind":"data","angle":118,"value":0.38},{"curve":"80","kind":"data","angle":122,"value":0.30},{"curve":"80","kind":"data","angle":124,"value":0.32},{"curve":"80","kind":"data","angle":126,"value":0.38},{"curve":"80","kind":"data","angle":128.6,"value":0.35},
{"curve":"114","kind":"data","angle":6.9,"value":9.8},{"curve":"114","kind":"data","angle":14,"value":2.55},{"curve":"114","kind":"data","angle":16,"value":2.5},{"curve":"114","kind":"data","angle":18,"value":2.4},{"curve":"114","kind":"data","angle":20,"value":2.25},{"curve":"114","kind":"data","angle":21.6,"value":2.1},{"curve":"114","kind":"data","angle":24,"value":1.8},{"curve":"114","kind":"data","angle":26,"value":1.55},{"curve":"114","kind":"data","angle":28,"value":1.3},{"curve":"114","kind":"data","angle":30,"value":1.1},{"curve":"114","kind":"data","angle":32,"value":0.92},{"curve":"114","kind":"data","angle":34,"value":0.75},{"curve":"114","kind":"data","angle":36,"value":0.6},{"curve":"114","kind":"data","angle":38,"value":0.47},{"curve":"114","kind":"data","angle":40,"value":0.36},{"curve":"114","kind":"data","angle":42,"value":0.29},{"curve":"114","kind":"data","angle":44,"value":0.24},{"curve":"114","kind":"data","angle":46,"value":0.21},{"curve":"114","kind":"data","angle":48,"value":0.155},{"curve":"114","kind":"data","angle":50,"value":0.12},{"curve":"114","kind":"data","angle":52,"value":0.088},{"curve":"114","kind":"data","angle":54,"value":0.065},{"curve":"114","kind":"data","angle":56,"value":0.045},{"curve":"114","kind":"data","angle":58.1,"value":0.0295},{"curve":"114","kind":"data","angle":60,"value":0.025},{"curve":"114","kind":"data","angle":62.4,"value":0.0205},{"curve":"114","kind":"data","angle":65,"value":0.0202},{"curve":"114","kind":"data","angle":67.6,"value":0.0202},{"curve":"114","kind":"data","angle":70,"value":0.0202},{"curve":"114","kind":"data","angle":72.8,"value":0.0202},{"curve":"114","kind":"data","angle":75.5,"value":0.018},{"curve":"114","kind":"data","angle":78.5,"value":0.0154},{"curve":"114","kind":"data","angle":82.5,"value":0.0105},{"curve":"114","kind":"data","angle":86.6,"value":0.0071},{"curve":"114","kind":"data","angle":90.6,"value":0.0043},{"curve":"114","kind":"data","angle":91.9,"value":0.0022},{"curve":"114","kind":"data","angle":93.9,"value":0.00135},{"curve":"114","kind":"data","angle":96,"value":6.2e-4},{"curve":"114","kind":"data","angle":98.9,"value":2.46e-4},{"curve":"114","kind":"data","angle":102.8,"value":5.3e-4},{"curve":"114","kind":"data","angle":105.9,"value":0.00103},{"curve":"114","kind":"data","angle":109.8,"value":0.0025},{"curve":"114","kind":"data","angle":114.6,"value":0.0048},{"curve":"114","kind":"data","angle":117,"value":0.0066},{"curve":"114","kind":"data","angle":120.9,"value":0.0093},{"curve":"114","kind":"data","angle":123,"value":0.009},{"curve":"114","kind":"data","angle":124.9,"value":0.0086},{"curve":"114","kind":"data","angle":127,"value":0.0083},{"curve":"114","kind":"data","angle":128.9,"value":0.008},{"curve":"114","kind":"data","angle":131.5,"value":0.0082},{"curve":"114","kind":"data","angle":134.5,"value":0.008},{"curve":"114","kind":"data","angle":137,"value":0.0077},{"curve":"114","kind":"data","angle":139.7,"value":0.0074},
{"curve":"163","kind":"data","angle":10.3,"value":0.067},{"curve":"163","kind":"data","angle":11.6,"value":0.055},{"curve":"163","kind":"data","angle":13.5,"value":0.05},{"curve":"163","kind":"data","angle":15.2,"value":0.047},{"curve":"163","kind":"data","angle":16.8,"value":0.0455},{"curve":"163","kind":"data","angle":18.5,"value":0.042},{"curve":"163","kind":"data","angle":20.5,"value":0.037},{"curve":"163","kind":"data","angle":22.4,"value":0.033},{"curve":"163","kind":"data","angle":24.8,"value":0.0255},{"curve":"163","kind":"data","angle":26.8,"value":0.021},{"curve":"163","kind":"data","angle":28.9,"value":0.0173},{"curve":"163","kind":"data","angle":30.9,"value":0.0118},{"curve":"163","kind":"data","angle":32.5,"value":0.0075},{"curve":"163","kind":"data","angle":34.6,"value":0.005},{"curve":"163","kind":"data","angle":36.6,"value":0.0032},{"curve":"163","kind":"data","angle":38.7,"value":0.002},{"curve":"163","kind":"data","angle":40,"value":0.0013},{"curve":"163","kind":"data","angle":42,"value":7e-4},{"curve":"163","kind":"data","angle":44.1,"value":2.2e-4},{"curve":"163","kind":"data","angle":45.4,"value":1.13e-4},{"curve":"163","kind":"data","angle":47.1,"value":3.2e-5},{"curve":"163","kind":"data","angle":48.3,"value":2.42e-5},{"curve":"163","kind":"data","angle":50.2,"value":4.7e-5},{"curve":"163","kind":"data","angle":52.9,"value":1.49e-4},{"curve":"163","kind":"data","angle":54.9,"value":1.95e-4},{"curve":"163","kind":"data","angle":57.3,"value":2.19e-4},{"curve":"163","kind":"data","angle":60.9,"value":2.46e-4},{"curve":"163","kind":"data","angle":64.1,"value":2.3e-4},{"curve":"163","kind":"data","angle":66.9,"value":2.1e-4},{"curve":"163","kind":"data","angle":69.3,"value":1.67e-4},{"curve":"163","kind":"data","angle":71.4,"value":1.33e-4},{"curve":"163","kind":"data","angle":74.2,"value":9.0e-5},{"curve":"163","kind":"data","angle":76.2,"value":5.2e-5},{"curve":"163","kind":"data","angle":79.1,"value":3.2e-5},{"curve":"163","kind":"data","angle":80.3,"value":2.15e-5},{"curve":"163","kind":"data","angle":81.2,"value":1.46e-5},{"curve":"163","kind":"data","angle":83.2,"value":8.9e-6},{"curve":"163","kind":"data","angle":84.4,"value":6.0e-6},{"curve":"163","kind":"data","angle":86.5,"value":5.15e-6},{"curve":"163","kind":"data","angle":87.6,"value":6.8e-6},{"curve":"163","kind":"data","angle":90.4,"value":1.07e-5},{"curve":"163","kind":"data","angle":93.2,"value":1.35e-5},{"curve":"163","kind":"data","angle":95.6,"value":1.58e-5},{"curve":"163","kind":"data","angle":99.2,"value":1.64e-5},{"curve":"163","kind":"data","angle":101.6,"value":1.58e-5},{"curve":"163","kind":"data","angle":104.4,"value":1.78e-5},{"curve":"163","kind":"data","angle":107.2,"value":1.78e-5},{"curve":"163","kind":"data","angle":109.6,"value":1.46e-5},{"curve":"163","kind":"data","angle":112.4,"value":1.2e-5},{"curve":"163","kind":"data","angle":115.2,"value":9.95e-6},{"curve":"163","kind":"data","angle":117.6,"value":7.3e-6},{"curve":"163","kind":"data","angle":120.5,"value":4.1e-6},{"curve":"163","kind":"data","angle":123.7,"value":4.2e-6},{"curve":"163","kind":"data","angle":126.5,"value":3.4e-6},
{"curve":"240","kind":"data","angle":8,"value":1.2e-3},{"curve":"240","kind":"data","angle":10,"value":8.5e-4},{"curve":"240","kind":"data","angle":12,"value":7e-4},{"curve":"240","kind":"data","angle":14,"value":6e-4},{"curve":"240","kind":"data","angle":16,"value":5.2e-4},{"curve":"240","kind":"data","angle":18,"value":4.5e-4},{"curve":"240","kind":"data","angle":20,"value":3.7e-4},{"curve":"240","kind":"data","angle":22,"value":2.8e-4},{"curve":"240","kind":"data","angle":24,"value":1.9e-4},{"curve":"240","kind":"data","angle":25.5,"value":1.2e-4},{"curve":"240","kind":"data","angle":27.4,"value":6.9e-5},{"curve":"240","kind":"data","angle":29.5,"value":3.6e-5},{"curve":"240","kind":"data","angle":31.5,"value":2.15e-5},{"curve":"240","kind":"data","angle":33.6,"value":1.12e-5},{"curve":"240","kind":"data","angle":35.6,"value":6.8e-6},{"curve":"240","kind":"data","angle":37.7,"value":4.1e-6},{"curve":"240","kind":"data","angle":39.5,"value":3.9e-6},{"curve":"240","kind":"data","angle":41.3,"value":3.8e-6},{"curve":"240","kind":"data","angle":43,"value":3.8e-6},{"curve":"240","kind":"data","angle":44.5,"value":3.8e-6},{"curve":"240","kind":"data","angle":46,"value":3.9e-6},{"curve":"240","kind":"data","angle":47.7,"value":4.1e-6},{"curve":"240","kind":"data","angle":49.5,"value":4.2e-6},{"curve":"240","kind":"data","angle":51.3,"value":4.25e-6},{"curve":"240","kind":"data","angle":53.7,"value":3.4e-6},{"curve":"240","kind":"data","angle":56.5,"value":2.77e-6},{"curve":"240","kind":"data","angle":58.5,"value":2.3e-6},{"curve":"240","kind":"data","angle":60.6,"value":1.88e-6},{"curve":"240","kind":"data","angle":63.4,"value":9.8e-7},{"curve":"240","kind":"data","angle":65.9,"value":4.5e-7},{"curve":"240","kind":"data","angle":67.9,"value":3.4e-7},{"curve":"240","kind":"data","angle":70,"value":2.5e-7},{"curve":"240","kind":"data","angle":70.8,"value":1.6e-7},{"curve":"240","kind":"data","angle":73.7,"value":1.04e-7},{"curve":"240","kind":"data","angle":74.9,"value":8.9e-8},{"curve":"240","kind":"data","angle":76.9,"value":6.5e-8},{"curve":"240","kind":"data","angle":80.2,"value":4.4e-8},{"curve":"240","kind":"data","angle":84.2,"value":3.9e-8},{"curve":"240","kind":"data","angle":87,"value":3.8e-8},{"curve":"240","kind":"data","angle":89.4,"value":3.25e-8},{"curve":"240","kind":"data","angle":93,"value":2.04e-8},{"curve":"240","kind":"data","angle":94.2,"value":2.3e-8},{"curve":"240","kind":"data","angle":95.5,"value":1.5e-8},{"curve":"240","kind":"data","angle":99.1,"value":9.4e-9},{"curve":"240","kind":"data","angle":101.2,"value":2.7e-9},{"curve":"240","kind":"data","angle":104.4,"value":2.25e-9},{"curve":"240","kind":"data","angle":102.5,"value":1.2e-9},{"curve":"240","kind":"data","angle":106.5,"value":1.17e-9},{"curve":"240","kind":"data","angle":108.9,"value":1.2e-9},{"curve":"240","kind":"data","angle":113.6,"value":2.6e-9},{"curve":"240","kind":"data","angle":116.4,"value":3.3e-9},{"curve":"240","kind":"data","angle":119.6,"value":4.3e-9},{"curve":"240","kind":"data","angle":122.4,"value":4.3e-9},{"curve":"240","kind":"data","angle":124.8,"value":4.5e-9},{"curve":"240","kind":"data","angle":129.2,"value":3.6e-9}
],
"bErr":[
{"curve":"163","angle":120.5,"low":3.4e-6,"high":5.0e-6},{"curve":"163","angle":123.7,"low":3.5e-6,"high":5.1e-6},{"curve":"163","angle":126.5,"low":2.8e-6,"high":4.1e-6},
{"curve":"240","angle":99.1,"low":5.9e-9,"high":1.39e-8},{"curve":"240","angle":101.2,"low":2.17e-9,"high":3.6e-9},{"curve":"240","angle":104.4,"low":1.86e-9,"high":2.95e-9},{"curve":"240","angle":102.5,"low":9.3e-10,"high":1.55e-9},{"curve":"240","angle":106.5,"low":9.3e-10,"high":1.55e-9},{"curve":"240","angle":108.9,"low":9.3e-10,"high":1.55e-9},{"curve":"240","angle":113.6,"low":2.0e-9,"high":3.3e-9},{"curve":"240","angle":116.4,"low":2.6e-9,"high":4.2e-9},{"curve":"240","angle":119.6,"low":3.3e-9,"high":5.7e-9},{"curve":"240","angle":122.4,"low":3.2e-9,"high":6.4e-9},{"curve":"240","angle":124.8,"low":2.95e-9,"high":6.9e-9},{"curve":"240","angle":129.2,"low":2.6e-9,"high":4.9e-9}
],
"bText":[
{"role":"panel","label":"(b)","angle":-32.7,"value":36.6},
{"role":"reaction","label":"π⁺¹⁶O","angle":82.0,"value":19.7},
{"role":"energy","label":"Tπ = 80MeV","angle":130.6,"value":11.0},
{"role":"energy","label":"114MeV","angle":131.0,"value":0.0552},
{"role":"factor","label":"×10⁻²","angle":128.8,"value":0.0236},
{"role":"energy","label":"163MeV","angle":132.4,"value":6.9e-5},
{"role":"factor","label":"×10⁻⁴","angle":129.2,"value":4.0e-5},
{"role":"energy","label":"240MeV","angle":132.2,"value":9.6e-8},
{"role":"factor","label":"×10⁻⁶","angle":128.0,"value":4.6e-8},
{"role":"theta","label":"θ","angle":132.8,"value":2.7e-10},
{"role":"sub","label":"c.m.","angle":139.6,"value":2.4e-10}
]
},
"vconcat":[
{
"width":385,"height":592,
"data":{"name":"a"},
"encoding":{
 "x":{"field":"angle","type":"quantitative","scale":{"domain":[9,178],"nice":false,"zero":false},"axis":null},
 "y":{"field":"value","type":"quantitative","scale":{"type":"log","domain":[1e-5,100],"nice":false},"axis":null}
},
"layer":[
{"transform":[{"filter":"datum.kind == 'calcA'"}],
 "mark":{"type":"line","color":"black","strokeWidth":2.1,"interpolate":"monotone","clip":true},
 "encoding":{
  "x":{"field":"angle","type":"quantitative","scale":{"domain":[9,178],"nice":false,"zero":false},
   "axis":{"orient":"bottom","title":null,"values":[10,20,30,40,50,60,70,80,90,100,110,120,130,140,150,160,170],
    "labelExpr":"datum.value % 30 == 0 ? datum.value + '°' : ''",
    "tickSize":{"condition":{"test":"datum.value % 30 == 0","value":-7},"value":-4},"labelPadding":8}},
  "y":{"field":"value","type":"quantitative","scale":{"type":"log","domain":[1e-5,100],"nice":false},
   "axis":{"orient":"left","title":"dσ/dΩ(mb/sr)","titleFontSize":19,"titleFontWeight":"normal","titlePadding":4,
    "values":[2e-5,3e-5,4e-5,5e-5,6e-5,7e-5,8e-5,9e-5,1e-4,2e-4,3e-4,4e-4,5e-4,6e-4,7e-4,8e-4,9e-4,1e-3,2e-3,3e-3,4e-3,5e-3,6e-3,7e-3,8e-3,9e-3,0.01,0.02,0.03,0.04,0.05,0.06,0.07,0.08,0.09,0.1,0.2,0.3,0.4,0.5,0.6,0.7,0.8,0.9,1,2,3,4,5,6,7,8,9,10,20,30,40,50,60,70,80,90],
    "labelExpr":"(abs(log(datum.value)/LN10 - round(log(datum.value)/LN10)) < 0.01 && datum.value < 50 && datum.value > 5e-5) ? '10' + (datum.value < 0.5 ? '⁻' : '') + ['⁰','¹','²','³','⁴','⁵','⁶','⁷','⁸','⁹'][abs(round(log(datum.value)/LN10))] : ''",
    "labelFontSize":{"condition":{"test":"abs(log(datum.value)/LN10 - round(log(datum.value)/LN10)) < 0.01","value":19},"value":0},
    "labelBaseline":"alphabetic","labelPadding":11,
    "tickSize":{"condition":{"test":"abs(log(datum.value)/LN10 - round(log(datum.value)/LN10)) < 0.01","value":-8},"value":-4}}},
  "detail":{"field":"curve"}}},
{"transform":[{"filter":"datum.kind == 'calcB'"}],
 "mark":{"type":"line","color":"black","strokeWidth":1.3,"strokeDash":[7,5],"interpolate":"monotone","clip":true},
 "encoding":{
  "x":{"field":"angle","type":"quantitative","scale":{"domain":[9,178],"nice":false,"zero":false},
   "axis":{"orient":"top","title":null,"labels":false,"values":[10,20,30,40,50,60,70,80,90,100,110,120,130,140,150,160,170],
    "tickSize":{"condition":{"test":"datum.value % 30 == 0","value":-7},"value":-4}}},
  "y":{"field":"value","type":"quantitative","scale":{"type":"log","domain":[1e-5,100],"nice":false},
   "axis":{"orient":"right","title":null,"labels":false,
    "values":[2e-5,3e-5,4e-5,5e-5,6e-5,7e-5,8e-5,9e-5,1e-4,2e-4,3e-4,4e-4,5e-4,6e-4,7e-4,8e-4,9e-4,1e-3,2e-3,3e-3,4e-3,5e-3,6e-3,7e-3,8e-3,9e-3,0.01,0.02,0.03,0.04,0.05,0.06,0.07,0.08,0.09,0.1,0.2,0.3,0.4,0.5,0.6,0.7,0.8,0.9,1,2,3,4,5,6,7,8,9,10,20,30,40,50,60,70,80,90],
    "tickSize":{"condition":{"test":"abs(log(datum.value)/LN10 - round(log(datum.value)/LN10)) < 0.01","value":-8},"value":-4}}},
  "detail":{"field":"curve"}}},
{"transform":[{"filter":"datum.kind == 'data'"}],
 "mark":{"type":"point","shape":"circle","filled":true,"color":"black","opacity":1,"size":24,"clip":true}},
{"data":{"name":"aErr"},
 "mark":{"type":"rule","color":"black","strokeWidth":1.3,"clip":true},
 "encoding":{"y":{"field":"low","type":"quantitative","scale":{"type":"log","domain":[1e-5,100],"nice":false},"axis":null},"y2":{"field":"high"}}},
{"data":{"name":"aText"},"transform":[{"filter":"datum.role == 'panel'"}],
 "mark":{"type":"text","align":"left","baseline":"alphabetic","fontSize":22,"color":"black"},"encoding":{"text":{"field":"label"}}},
{"data":{"name":"aText"},"transform":[{"filter":"datum.role == 'reaction'"}],
 "mark":{"type":"text","align":"center","baseline":"alphabetic","fontSize":23,"color":"black"},"encoding":{"text":{"field":"label"}}},
{"data":{"name":"aText"},"transform":[{"filter":"datum.role == 'energy'"}],
 "mark":{"type":"text","align":"center","baseline":"alphabetic","fontSize":20,"color":"black"},"encoding":{"text":{"field":"label"}}},
{"data":{"name":"aText"},"transform":[{"filter":"datum.role == 'factor'"}],
 "mark":{"type":"text","align":"center","baseline":"alphabetic","fontSize":12,"color":"black"},"encoding":{"text":{"field":"label"}}},
{"data":{"name":"aText"},"transform":[{"filter":"datum.role == 'theta'"}],
 "mark":{"type":"text","align":"left","baseline":"alphabetic","fontSize":24,"fontStyle":"italic","color":"black"},"encoding":{"text":{"field":"label"}}},
{"data":{"name":"aText"},"transform":[{"filter":"datum.role == 'sub'"}],
 "mark":{"type":"text","align":"left","baseline":"alphabetic","fontSize":13,"color":"black"},"encoding":{"text":{"field":"label"}}}
],
"resolve":{"axis":{"x":"independent","y":"independent"}}
},
{
"width":381,"height":655,
"data":{"name":"b"},
"encoding":{
 "x":{"field":"angle","type":"quantitative","scale":{"domain":[0,152],"nice":false,"zero":false},"axis":null},
 "y":{"field":"value","type":"quantitative","scale":{"type":"log","domain":[1e-9,100],"nice":false},"axis":null}
},
"layer":[
{"transform":[{"filter":"datum.kind == 'calcA'"}],
 "mark":{"type":"line","color":"black","strokeWidth":2.1,"interpolate":"monotone","clip":true},
 "encoding":{
  "x":{"field":"angle","type":"quantitative","scale":{"domain":[0,152],"nice":false,"zero":false},
   "axis":{"orient":"bottom","title":null,"values":[10,20,30,40,50,60,70,80,90,100,110,120,130,140,150],
    "labelExpr":"(datum.value % 30 == 0 && datum.value < 140) ? datum.value + '°' : ''",
    "tickSize":{"condition":{"test":"datum.value % 30 == 0","value":-7},"value":-4},"labelPadding":8}},
  "y":{"field":"value","type":"quantitative","scale":{"type":"log","domain":[1e-9,100],"nice":false},
   "axis":{"orient":"left","title":"dσ/dΩ(mb/sr)","titleFontSize":19,"titleFontWeight":"normal","titlePadding":4,
    "values":[1e-8,1e-7,1e-6,1e-5,1e-4,1e-3,0.01,0.1,1,10],
    "labelExpr":"'10' + (datum.value < 0.5 ? '⁻' : '') + ['⁰','¹','²','³','⁴','⁵','⁶','⁷','⁸','⁹'][abs(round(log(datum.value)/LN10))]",
    "labelBaseline":"alphabetic","labelPadding":10,"tickSize":-7}},
  "detail":{"field":"curve"}}},
{"transform":[{"filter":"datum.kind == 'calcB'"}],
 "mark":{"type":"line","color":"black","strokeWidth":1.3,"strokeDash":[7,5],"interpolate":"monotone","clip":true},
 "encoding":{
  "x":{"field":"angle","type":"quantitative","scale":{"domain":[0,152],"nice":false,"zero":false},
   "axis":{"orient":"top","title":null,"labels":false,"values":[10,20,30,40,50,60,70,80,90,100,110,120,130,140,150],
    "tickSize":{"condition":{"test":"datum.value % 30 == 0","value":-7},"value":-4}}},
  "y":{"field":"value","type":"quantitative","scale":{"type":"log","domain":[1e-9,100],"nice":false},
   "axis":{"orient":"right","title":null,"labels":false,"values":[1e-8,1e-7,1e-6,1e-5,1e-4,1e-3,0.01,0.1,1,10],"tickSize":-7}},
  "detail":{"field":"curve"}}},
{"transform":[{"filter":"datum.kind == 'data'"}],
 "mark":{"type":"point","shape":"circle","filled":true,"color":"black","opacity":1,"size":24,"clip":true}},
{"data":{"name":"bErr"},
 "mark":{"type":"rule","color":"black","strokeWidth":1.3,"clip":true},
 "encoding":{"y":{"field":"low","type":"quantitative","scale":{"type":"log","domain":[1e-9,100],"nice":false},"axis":null},"y2":{"field":"high"}}},
{"data":{"name":"bText"},"transform":[{"filter":"datum.role == 'panel'"}],
 "mark":{"type":"text","align":"left","baseline":"alphabetic","fontSize":22,"color":"black"},"encoding":{"text":{"field":"label"}}},
{"data":{"name":"bText"},"transform":[{"filter":"datum.role == 'reaction'"}],
 "mark":{"type":"text","align":"center","baseline":"alphabetic","fontSize":23,"color":"black"},"encoding":{"text":{"field":"label"}}},
{"data":{"name":"bText"},"transform":[{"filter":"datum.role == 'energy'"}],
 "mark":{"type":"text","align":"center","baseline":"alphabetic","fontSize":20,"color":"black"},"encoding":{"text":{"field":"label"}}},
{"data":{"name":"bText"},"transform":[{"filter":"datum.role == 'factor'"}],
 "mark":{"type":"text","align":"center","baseline":"alphabetic","fontSize":12,"color":"black"},"encoding":{"text":{"field":"label"}}},
{"data":{"name":"bText"},"transform":[{"filter":"datum.role == 'theta'"}],
 "mark":{"type":"text","align":"left","baseline":"alphabetic","fontSize":24,"fontStyle":"italic","color":"black"},"encoding":{"text":{"field":"label"}}},
{"data":{"name":"bText"},"transform":[{"filter":"datum.role == 'sub'"}],
 "mark":{"type":"text","align":"left","baseline":"alphabetic","fontSize":13,"color":"black"},"encoding":{"text":{"field":"label"}}}
],
"resolve":{"axis":{"x":"independent","y":"independent"}}
}
]
}
